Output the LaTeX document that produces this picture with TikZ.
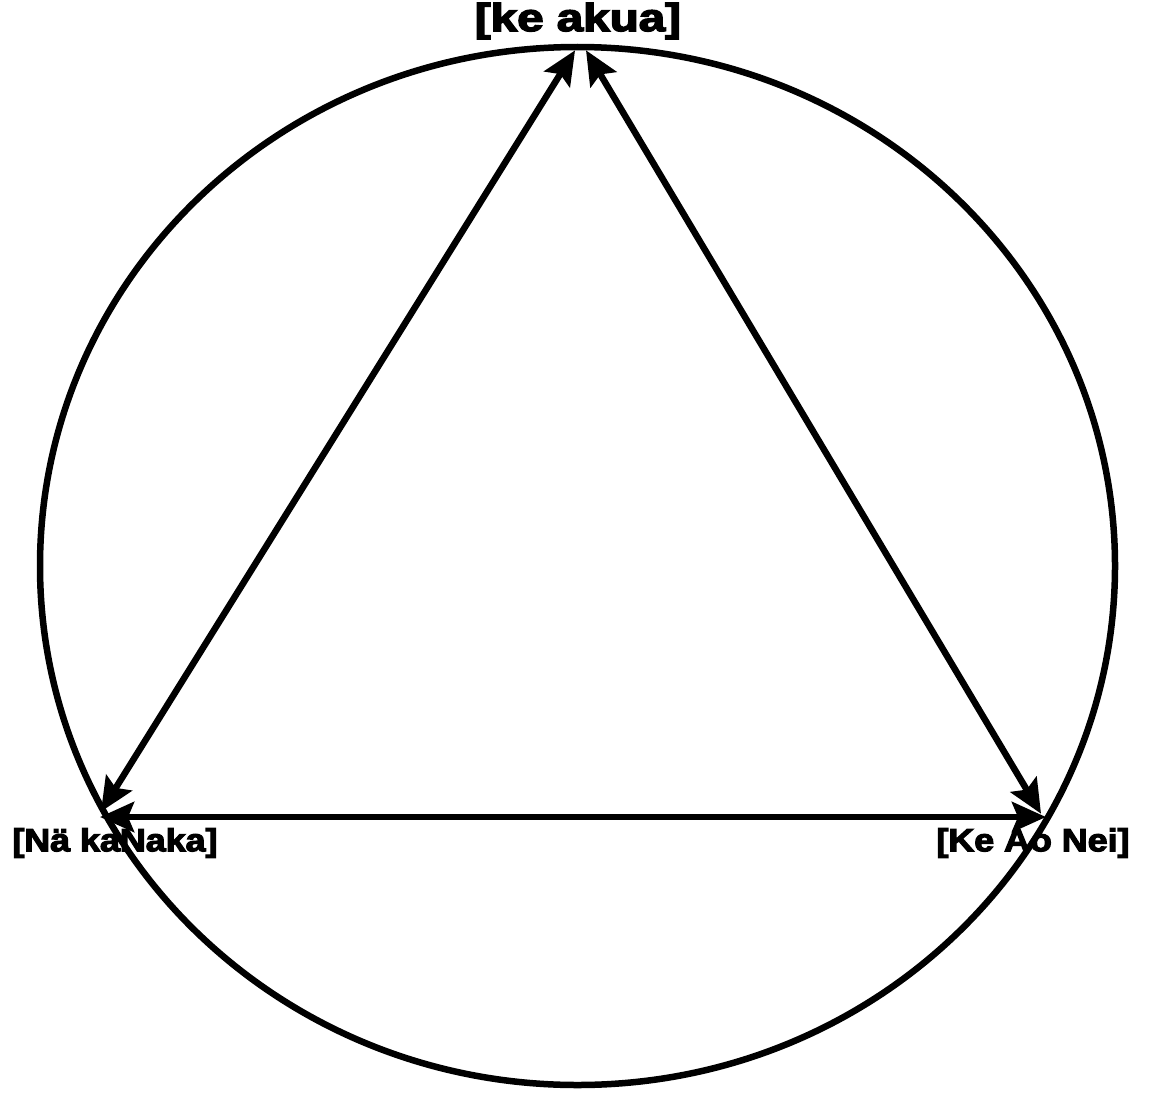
\documentclass[tikz,border=0pt]{standalone}
\usepackage{fontspec}
\setmainfont{Liberation Sans}[BoldFeatures={FakeBold=3.5}]
\usetikzlibrary{arrows.meta}
\begin{document}
\begin{tikzpicture}[x=1pt,y=-1pt,
  lbl/.style={inner sep=0pt,font=\bfseries},
  conn/.style={line width=6.5pt,{Stealth[length=34pt,width=30pt,inset=6pt]}-{Stealth[length=34pt,width=30pt,inset=6pt]}, shorten <=-2pt, shorten >=-2pt},
  ring/.style={line width=6.5pt}]
\useasboundingbox[fill=white] (0,0) rectangle (1156,1116);
\draw[ring] (577.5,566) ellipse [x radius=537.5, y radius=519];
\coordinate (A1) at (574,52);
\coordinate (A2) at (587,52);
\coordinate (L1) at (102,810);
\coordinate (L2) at (102,817);
\coordinate (R1) at (1040,812);
\coordinate (R2) at (1044,817);
\draw[conn] (A1) -- (L1);
\draw[conn] (A2) -- (R1);
\draw[conn] (L2) -- (R2);
\node[lbl] (top) at (578,21) {\scalebox{1.22}[1]{\fontsize{39}{44}\selectfont [ke akua]}};
\node[lbl] (left) at (115,843) {\scalebox{1.12}[1]{\fontsize{32}{36}\selectfont [Nä kaNaka]}};
\node[lbl] (right) at (1033,843) {\scalebox{1.12}[1]{\fontsize{32}{36}\selectfont [Ke Ao Nei]}};
\end{tikzpicture}
\end{document}
